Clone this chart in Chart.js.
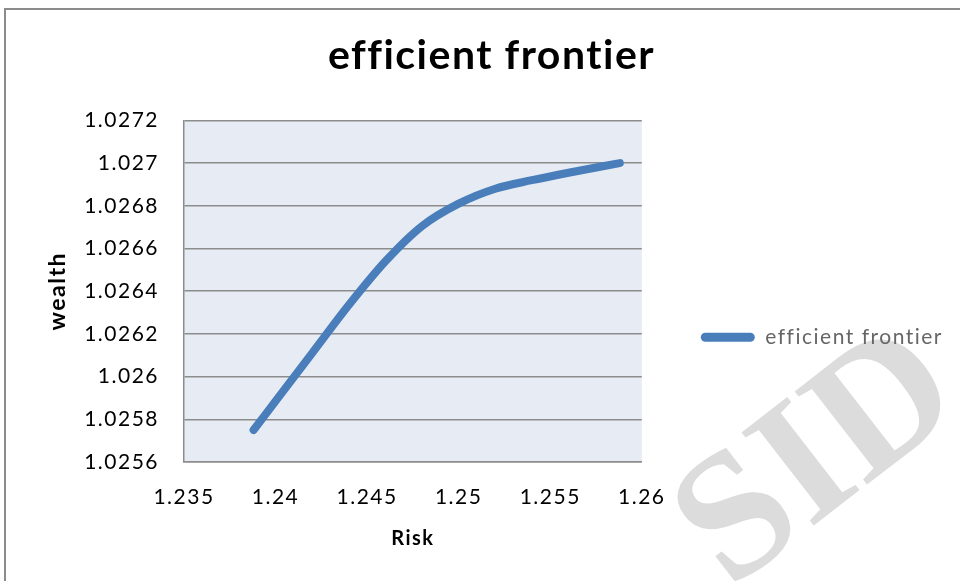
<!DOCTYPE html>
<html>
<head>
<meta charset="utf-8">
<script src="https://cdn.jsdelivr.net/npm/chart.js@4.4.1/dist/chart.umd.min.js"></script>
<style>
  body { margin: 0; background: #fff; }
  #frame { position: absolute; left: 4px; top: 8px; width: 1000px; height: 1000px; border: 2px solid #8c8c8c; box-sizing: border-box; }
  #wrap { position: absolute; left: 0; top: 0; width: 960px; height: 581px; }
</style>
</head>
<body>
<div id="frame"></div>
<div id="wrap"><canvas id="myChart"></canvas></div>
<script>
// values
var riskValues = [1.2388, 1.2400, 1.2420, 1.2440, 1.2460, 1.2480, 1.2500, 1.2520, 1.2540, 1.2560, 1.2588];
var wealthValues = [1.02575, 1.025885, 1.02611, 1.026335, 1.02654, 1.026705, 1.02681, 1.02688, 1.02692, 1.026955, 1.02700];

var xTicks = { min: 1.235, max: 1.26, step: 0.005 };
var yTicks = { min: 1.0256, max: 1.0272, step: 0.0002 };

var seriesName = 'efficient frontier';
var lineColor = '#4a7ebb';
var gridColor = '#8c8c8c';

var points = riskValues.map(function (r, i) {
  return { x: r, y: wealthValues[i] };
});

// excel-ish text is a bit spaced out
var spacing = {
  id: 'spacing',
  beforeLayout: function (chart) { chart.ctx.letterSpacing = '1.5px'; },
  beforeDraw: function (chart) { chart.ctx.letterSpacing = '1.5px'; }
};

var plotBg = {
  id: 'plotBg',
  beforeDraw: function (chart) {
    var ctx = chart.ctx, a = chart.chartArea;
    ctx.save();
    // watermark
    ctx.letterSpacing = '0px';
    ctx.fillStyle = '#dcdcdc';
    ctx.font = 'bold 180px "Liberation Serif"';
    ctx.textAlign = 'center';
    ctx.textBaseline = 'middle';
    ctx.translate(820, 462);
    ctx.rotate(-0.66);
    ctx.fillText('SID', 0, 0);
    ctx.restore();

    ctx.save();
    ctx.fillStyle = '#e7ecf4';
    ctx.fillRect(a.left, a.top, a.right - a.left, a.bottom - a.top);
    ctx.restore();
  }
};

function fmt(digits) {
  return function (v) { return String(parseFloat(v.toFixed(digits))); };
}

new Chart(document.getElementById('myChart'), {
  type: 'line',
  data: {
    datasets: [{
      label: seriesName,
      data: points,
      borderColor: lineColor,
      backgroundColor: lineColor,
      borderWidth: 8,
      borderCapStyle: 'round',
      borderJoinStyle: 'round',
      cubicInterpolationMode: 'monotone',
      pointRadius: 0,
      fill: false
    }]
  },
  options: {
    responsive: true,
    maintainAspectRatio: false,
    animation: false,
    layout: { padding: { left: 30, top: 10, right: 7, bottom: 30.4 } },
    plugins: {
      tooltip: { enabled: false },
      title: {
        display: true,
        text: 'efficient frontier',
        color: '#000',
        font: { family: 'Lato', size: 41, weight: 'bold' },
        padding: { top: 21, bottom: 40.2 }
      },
      legend: {
        position: 'right',
        fullSize: false,
        maxWidth: 330,
        title: { display: true, text: '', font: { size: 10 }, padding: { top: 80, bottom: 0 } },
        labels: {
          color: '#000',
          font: { family: 'Lato', size: 21 },
          boxWidth: 54,
          boxHeight: 9,
          padding: 59,
          generateLabels: function (chart) {
            return [{
              text: seriesName,
              fillStyle: lineColor,
              strokeStyle: lineColor,
              lineWidth: 0,
              borderRadius: 4.5,
              datasetIndex: 0
            }];
          },
          useBorderRadius: true,
          borderRadius: 4.5
        }
      }
    },
    scales: {
      x: {
        type: 'linear',
        min: xTicks.min,
        max: xTicks.max,
        afterFit: function (axis) { axis.height = 88.6; },
        grid: { display: false, drawTicks: false },
        border: { display: true, color: gridColor, width: 1.5 },
        ticks: {
          stepSize: xTicks.step,
          padding: 23,
          color: '#000',
          font: { family: 'Lato', size: 21 },
          callback: fmt(3)
        },
        title: {
          display: true,
          text: 'Risk',
          color: '#000',
          font: { family: 'Lato', size: 20, weight: 'bold' },
          padding: { top: 0, bottom: 0 }
        }
      },
      y: {
        min: yTicks.min,
        max: yTicks.max,
        afterFit: function (axis) { axis.width = 154; },
        grid: { color: gridColor, lineWidth: 1.5, drawTicks: false },
        border: { display: true, color: gridColor, width: 1.5 },
        ticks: {
          stepSize: yTicks.step,
          padding: 25,
          color: '#000',
          font: { family: 'Lato', size: 21 },
          callback: fmt(4)
        },
        title: {
          display: true,
          text: 'wealth',
          color: '#000',
          font: { family: 'Lato', size: 23, weight: 'bold' },
          padding: { top: 14, bottom: 0 }
        }
      }
    }
  },
  plugins: [spacing, plotBg]
});
</script>
</body>
</html>
